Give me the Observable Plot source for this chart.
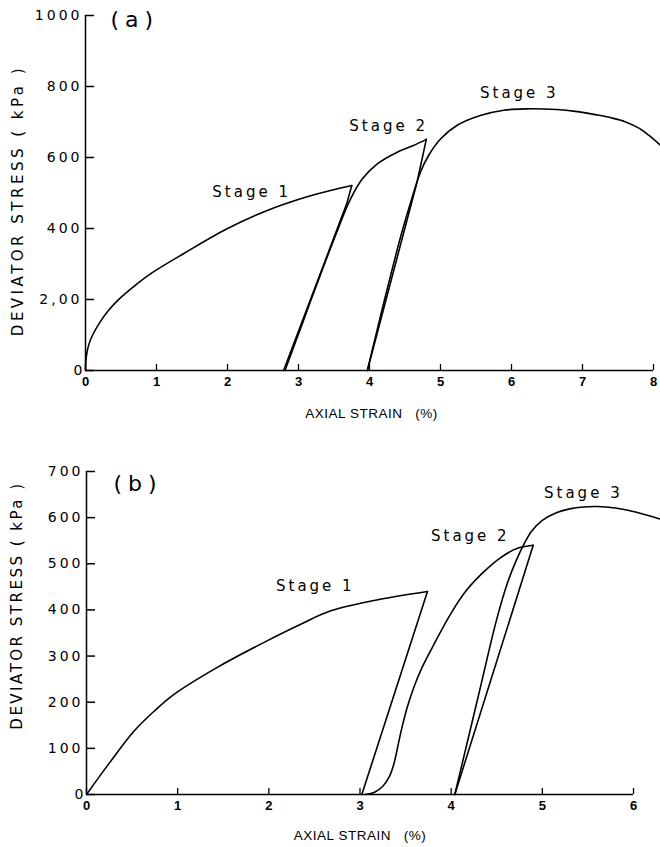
<!DOCTYPE html>
<html>
<head>
<meta charset="utf-8">
<script src="https://cdn.jsdelivr.net/npm/d3@7"></script>
<script src="https://cdn.jsdelivr.net/npm/@observablehq/plot@0.6"></script>
<style>
  body { margin: 0; background: #fff; }
  #chart svg { display: block; }
  #chart text { white-space: pre; }
</style>
</head>
<body>
<div id="chart"></div>
<script>
// ---------- Panel (a) ----------
const aXTicks = [0, 1, 2, 3, 4, 5, 6, 7, 8];
const aYTicks = [0, 200, 400, 600, 800, 1000];
const aYTickLabels = ["0", "2,00", "400", "600", "800", "1000"];

const aS1LoadX = [0, 0.005, 0.02, 0.05, 0.1, 0.2, 0.32, 0.45, 0.7, 0.92, 1.38, 2.0, 2.56, 3.03, 3.45, 3.75];
const aS1LoadY = [0, 25, 50, 75, 100, 135, 168, 197, 240, 273, 329, 400, 451, 484, 507, 521];
const aS1UnloadX = [3.75, 3.68, 2.79];
const aS1UnloadY = [521, 470, 0];
const aS2LoadX = [2.81, 3.05, 3.3, 3.55, 3.72, 3.9, 4.11, 4.39, 4.62, 4.80];
const aS2LoadY = [0, 130, 265, 395, 478, 540, 582, 615, 634, 651];
const aS2UnloadX = [4.80, 4.67, 3.97];
const aS2UnloadY = [651, 531, 0];
const aS3LoadX = [3.97, 4.2, 4.45, 4.62, 4.72, 4.83, 5.0, 5.23, 5.56, 5.89, 6.2, 6.64, 6.9, 7.2, 7.4, 7.6, 7.8, 7.95, 8.1];
const aS3LoadY = [0, 190, 385, 500, 560, 605, 652, 690, 718, 733, 737, 735, 730, 720, 712, 701, 682, 660, 634];

const aLabelText = ["Stage 1", "Stage 2", "Stage 3"];
const aLabelX = [2.34, 4.27, 6.11];
const aLabelY = [501, 687, 782];

// ---------- Panel (b) ----------
const bXTicks = [0, 1, 2, 3, 4, 5, 6];
const bYTicks = [0, 100, 200, 300, 400, 500, 600, 700];
const bYTickLabels = ["0", "100", "200", "300", "400", "500", "600", "700"];

const bS1LoadX = [0, 0.25, 0.52, 0.75, 0.96, 1.43, 1.98, 2.35, 2.68, 3.22, 3.74];
const bS1LoadY = [0, 68, 137, 182, 217, 275, 333, 369, 398, 423, 440];
const bS1UnloadX = [3.74, 3.02];
const bS1UnloadY = [440, 0];
const bS2LoadX = [3.06, 3.16, 3.25, 3.32, 3.37, 3.41, 3.46, 3.52, 3.59, 3.68, 3.81, 3.99, 4.17, 4.36, 4.54, 4.72, 4.90];
const bS2LoadY = [0, 5, 18, 38, 65, 100, 145, 190, 232, 275, 325, 390, 443, 483, 513, 533, 540];
const bS2UnloadX = [4.90, 4.04];
const bS2UnloadY = [540, 0];
const bS3LoadX = [4.04, 4.3, 4.5, 4.62, 4.72, 4.8, 4.88, 5.0, 5.16, 5.3, 5.45, 5.6, 5.8, 5.96, 6.12, 6.29];
const bS3LoadY = [0, 215, 380, 460, 510, 543, 570, 594, 611, 619, 623, 624, 621, 615, 607, 597];

const bLabelText = ["Stage 1", "Stage 2", "Stage 3"];
const bLabelX = [2.51, 4.21, 5.45];
const bLabelY = [451, 559, 654];

const xAxisTitle = "AXIAL STRAIN   (%)";
const yAxisTitle = "DEVIATOR STRESS ( kPa )";

// ---------- helpers ----------
const rows = (xs, ys, s) => xs.map((x, i) => ({x, y: ys[i], s}));
const labelRows = (t, xs, ys) => t.map((d, i) => ({t: d, x: xs[i], y: ys[i]}));

function panel(cfg) {
  const tickFmt = (ticks, labels) => (d) => labels[ticks.indexOf(d)];
  const svg = Plot.plot({
    width: 660,
    height: cfg.height,
    marginLeft: cfg.mLeft,
    marginRight: cfg.mRight,
    marginTop: cfg.mTop,
    marginBottom: cfg.mBottom,
    x: {domain: cfg.xDomain, label: null},
    y: {domain: cfg.yDomain, label: null},
    style: {background: "#fff", color: "#000", fontFamily: "'DejaVu Sans', sans-serif", overflow: "visible"},
    marks: [
      Plot.ruleX([cfg.xDomain[0]], {stroke: "#000", strokeWidth: 1.5}),
      Plot.ruleY([cfg.yDomain[0]], {stroke: "#000", strokeWidth: 1.5}),
      Plot.axisY(cfg.yTicks, {
        tickSize: -9, tickPadding: 12, strokeWidth: 1.5,
        tickFormat: tickFmt(cfg.yTicks, cfg.yTickLabels),
        fontSize: 14, label: null
      }),
      Plot.axisX(cfg.xTicks, {
        tickSize: -6, tickPadding: 12, strokeWidth: 1.3,
        fontSize: 13, fontWeight: "bold", fontFamily: "'Liberation Sans', Arial, sans-serif",
        label: null
      }),
      Plot.line(cfg.loads, {x: "x", y: "y", z: "s", curve: "catmull-rom", stroke: "#000", strokeWidth: 1.6}),
      Plot.line(cfg.unloads, {x: "x", y: "y", z: "s", curve: "linear", stroke: "#000", strokeWidth: 1.6}),
      Plot.text(cfg.labels, {x: "x", y: "y", text: "t", fontSize: 15}),
      Plot.text([cfg.tag], {text: (d) => d, frameAnchor: "top-left", textAnchor: "start", lineAnchor: "middle",
        dx: cfg.tagDx, dy: cfg.tagDy, fontSize: 22}),
      Plot.text([xAxisTitle], {text: (d) => d, frameAnchor: "bottom", textAnchor: "middle", lineAnchor: "middle",
        dx: cfg.xlDx, dy: cfg.xlDy, fontSize: 13.5, fontFamily: "'Liberation Sans', Arial, sans-serif"}),
      Plot.text([yAxisTitle], {text: (d) => d, frameAnchor: "left", textAnchor: "middle", rotate: -90, lineAnchor: "middle",
        dx: cfg.ylDx, dy: cfg.ylDy, fontSize: 15})
    ]
  });
  // letter spacing to mimic the original lettering
  d3.select(svg).selectAll("text").each(function () {
    const t = this.textContent;
    let ls = null;
    if (t.startsWith("Stage")) ls = "3px";
    else if (t.startsWith("DEVIATOR")) ls = cfg.ylSpacing;
    else if (t.startsWith("AXIAL")) ls = "0.5px";
    else if (t.startsWith("(")) ls = "6px";
    else if (/^[0-9,]+$/.test(t) && t.length > 1) ls = "3px";
    if (ls) d3.select(this).style("letter-spacing", ls);
  });
  return svg;
}

const plotA = panel({
  height: 440, mLeft: 85, mRight: 7, mTop: 15, mBottom: 70,
  xDomain: [0, 8], yDomain: [0, 1000],
  xTicks: aXTicks, yTicks: aYTicks, yTickLabels: aYTickLabels,
  loads: [...rows(aS1LoadX, aS1LoadY, "s1"), ...rows(aS2LoadX, aS2LoadY, "s2"), ...rows(aS3LoadX, aS3LoadY, "s3")],
  unloads: [...rows(aS1UnloadX, aS1UnloadY, "u1"), ...rows(aS2UnloadX, aS2UnloadY, "u2")],
  labels: labelRows(aLabelText, aLabelX, aLabelY),
  tag: "(a)", tagDx: 25, tagDy: 4,
  xlDx: 2, xlDy: 43,
  ylDx: -67, ylDy: 7.5, ylSpacing: "3.5px"
});

const plotB = panel({
  height: 407, mLeft: 86, mRight: 27, mTop: 31, mBottom: 53,
  xDomain: [0, 6], yDomain: [0, 700],
  xTicks: bXTicks, yTicks: bYTicks, yTickLabels: bYTickLabels,
  loads: [...rows(bS1LoadX, bS1LoadY, "s1"), ...rows(bS2LoadX, bS2LoadY, "s2"), ...rows(bS3LoadX, bS3LoadY, "s3")],
  unloads: [...rows(bS1UnloadX, bS1UnloadY, "u1"), ...rows(bS2UnloadX, bS2UnloadY, "u2")],
  labels: labelRows(bLabelText, bLabelX, bLabelY),
  tag: "(b)", tagDx: 27, tagDy: 12,
  xlDx: 0, xlDy: 41,
  ylDx: -69, ylDy: -27.5, ylSpacing: "2.5px"
});

const root = document.getElementById("chart");
root.appendChild(plotA);
root.appendChild(plotB);
</script>
</body>
</html>
